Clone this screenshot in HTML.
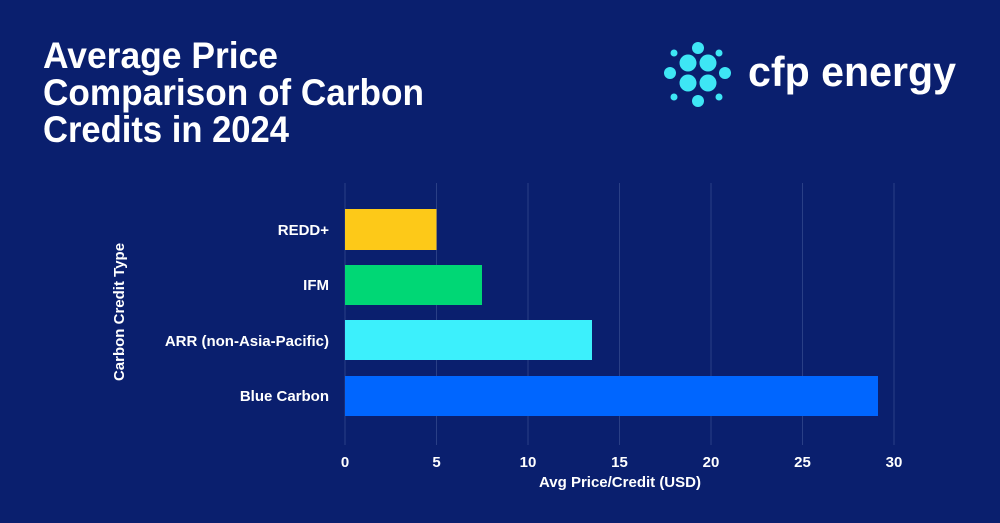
<!DOCTYPE html>
<html><head><meta charset="utf-8"><style>
html,body{margin:0;padding:0;background:#0a1f6e;}
svg{display:block;font-family:"Liberation Sans",sans-serif;}
</style></head><body>
<svg width="1000" height="523" viewBox="0 0 1000 523" xmlns="http://www.w3.org/2000/svg">
<rect width="1000" height="523" fill="#0a1f6e"/>
<g fill="#fff" font-weight="bold" font-size="37">
<text x="43" y="68" textLength="235" lengthAdjust="spacingAndGlyphs">Average Price</text>
<text x="43" y="105" textLength="381" lengthAdjust="spacingAndGlyphs">Comparison of Carbon</text>
<text x="43" y="142" textLength="246" lengthAdjust="spacingAndGlyphs">Credits in 2024</text>
</g>
<g fill="#3ee6f5">
<circle cx="688" cy="63" r="8.5"/><circle cx="708" cy="63" r="8.5"/>
<circle cx="688" cy="83" r="8.5"/><circle cx="708" cy="83" r="8.5"/>
<circle cx="698" cy="48" r="6"/><circle cx="698" cy="101" r="6"/>
<circle cx="670" cy="73" r="6"/><circle cx="725" cy="73" r="6"/>
<circle cx="674" cy="53" r="3.5"/><circle cx="719" cy="53" r="3.5"/>
<circle cx="674" cy="97" r="3.5"/><circle cx="719" cy="97" r="3.5"/>
</g>
<text x="748" y="86" fill="#fff" font-size="42" font-weight="bold" textLength="208" lengthAdjust="spacingAndGlyphs">cfp energy</text>
<g stroke="#2a3f86" stroke-width="1">
<line x1="345" y1="183" x2="345" y2="445"/>
<line x1="436.5" y1="183" x2="436.5" y2="445"/>
<line x1="528" y1="183" x2="528" y2="445"/>
<line x1="619.5" y1="183" x2="619.5" y2="445"/>
<line x1="711" y1="183" x2="711" y2="445"/>
<line x1="802.5" y1="183" x2="802.5" y2="445"/>
<line x1="894" y1="183" x2="894" y2="445"/>
</g>
<rect x="345" y="209" width="91.5" height="41" fill="#fdc918"/>
<rect x="345" y="265" width="137" height="40" fill="#00d775"/>
<rect x="345" y="320" width="247" height="40" fill="#3cf0fc"/>
<rect x="345" y="376" width="533" height="40" fill="#0066ff"/>
<g fill="#fff" font-size="15" font-weight="bold" text-anchor="end">
<text x="329" y="235">REDD+</text>
<text x="329" y="290">IFM</text>
<text x="329" y="346">ARR (non-Asia-Pacific)</text>
<text x="329" y="401">Blue Carbon</text>
</g>
<g fill="#fff" font-size="15" font-weight="bold" text-anchor="middle">
<text x="345" y="467">0</text><text x="436.5" y="467">5</text><text x="528" y="467">10</text>
<text x="619.5" y="467">15</text><text x="711" y="467">20</text><text x="802.5" y="467">25</text><text x="894" y="467">30</text>
<text x="620" y="487">Avg Price/Credit  (USD)</text>
<text transform="translate(124,312) rotate(-90)">Carbon Credit Type</text>
</g>
</svg>
</body></html>
